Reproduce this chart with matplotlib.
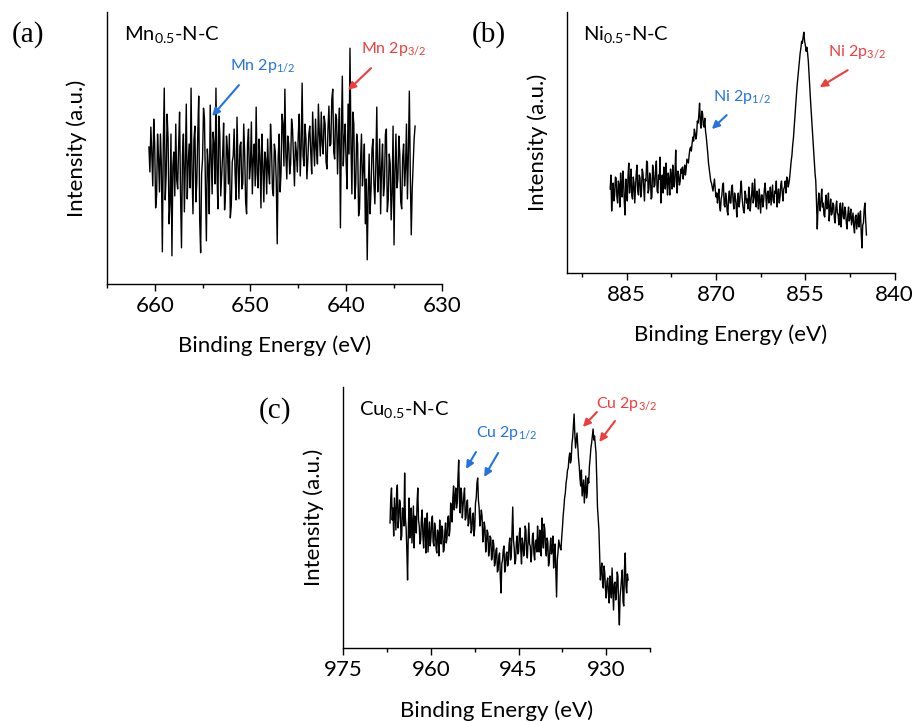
import matplotlib
matplotlib.use("Agg")
import matplotlib.pyplot as plt
from matplotlib.ticker import MultipleLocator
import numpy as np

plt.rcParams['font.family'] = 'Lato'
plt.rcParams['mathtext.fontset'] = 'custom'
plt.rcParams['mathtext.rm'] = 'Lato'
plt.rcParams['mathtext.it'] = 'Lato:italic'

BLUE = '#2473E0'
RED = '#EE3D3D'

# --- Mn 2p spectrum (binding energy grid: start, step) ---
mn_start, mn_step = 660.6, 0.1
mn_counts = [
    137, 112, 157, 130, 98, 165, 140, 76, 88, 150,
    126, 92, 150, 118, 32, 140, 196, 84, 110, 170,
    145, 60, 80, 150, 28, 118, 132, 88, 160, 104,
    95, 138, 172, 90, 36, 128, 150, 72, 120, 180,
    85, 120, 140, 96, 196, 112, 70, 144, 158, 82,
    102, 150, 188, 64, 31, 110, 125, 176, 165, 98,
    43, 135, 118, 70, 179, 128, 90, 152, 140, 100,
    196, 115, 75, 168, 150, 88, 108, 130, 161, 74,
    92, 148, 135, 100, 150, 66, 78, 122, 128, 155,
    110, 84, 167, 120, 85, 138, 142, 95, 100, 160,
    130, 82, 70, 140, 155, 105, 118, 162, 90, 125,
    140, 98, 177, 110, 96, 145, 128, 76, 150, 118,
    82, 132, 125, 90, 145, 112, 100, 160, 138, 95,
    88, 140, 132, 102, 40, 126, 150, 92, 112, 170,
    160, 118, 195, 130, 105, 148, 140, 110, 120, 165,
    155, 125, 98, 142, 132, 112, 150, 170, 108, 136,
    201, 128, 118, 160, 145, 105, 125, 150, 158, 132,
    110, 172, 140, 118, 165, 135, 120, 180, 150, 128,
    172, 140, 130, 168, 160, 122, 115, 155, 178, 138,
    140, 185, 195, 132, 125, 170, 165, 110, 150, 176,
    56, 150, 208, 118, 145, 160, 120, 95, 180, 130,
    236, 140, 90, 172, 160, 85, 100, 150, 140, 68,
    75, 122, 150, 98, 115, 140, 60, 105, 24, 90,
    130, 70, 95, 135, 145, 100, 80, 120, 177, 92,
    110, 145, 70, 118, 140, 88, 100, 150, 155, 72,
    85, 130, 120, 64, 90, 158, 39, 112, 150, 96,
    105, 148, 130, 82, 75, 126, 140, 98, 115, 160,
    85, 130, 193, 110, 49, 95, 120, 145, 158,
]

# --- Ni 2p spectrum ---
ni_start, ni_step = 887.75, 0.125
ni_counts = [
    84, 98, 62, 80, 90, 72, 78, 96, 95, 76,
    70, 92, 88, 66, 100, 84, 76, 102, 92, 70,
    58, 94, 85, 72, 98, 110, 80, 90, 104, 78,
    74, 96, 90, 70, 86, 100, 108, 82, 78, 98,
    95, 76, 82, 104, 100, 86, 72, 94, 92, 112,
    110, 80, 84, 100, 96, 74, 76, 108, 102, 86,
    88, 104, 112, 82, 80, 98, 94, 116, 70, 92,
    98, 80, 106, 90, 84, 110, 92, 78, 100, 94,
    78, 104, 96, 84, 108, 94, 86, 100, 123, 90,
    80, 102, 98, 88, 92, 104,
    100, 106, 94, 102, 108, 98, 104, 114, 112, 110,
    118, 124, 126, 122, 130, 136, 132, 144, 140, 134,
    138, 152, 150, 158, 170, 150, 145, 162, 160, 148,
    146, 155, 142, 136, 128, 120, 110, 104, 98, 92,
    90, 86, 82, 88, 94, 84, 76, 80,
    70, 78, 84, 66, 62, 74, 78, 88, 90, 68,
    66, 80, 74, 62, 58, 76, 82, 70, 70, 86,
    88, 72, 64, 80, 76, 68, 56, 74, 80, 66,
    72, 84, 92, 76, 68, 62, 60, 82, 78, 70,
    74, 64, 86, 78, 62, 72, 80, 90, 70, 76,
    94, 74, 66, 82, 76, 64, 84, 72, 60, 78,
    78, 66, 72, 84, 90, 76, 64, 80, 82, 70,
    74, 86, 68, 78, 88, 72, 70, 82, 80, 92,
    66, 78, 84, 70, 76, 88, 92, 80, 72, 84,
    86, 92, 80, 96, 94, 86,
    90, 96, 104, 112, 118, 128, 135, 146, 158, 168,
    178, 188, 196, 204, 212, 220, 225, 232, 230, 236,
    241, 232, 228, 222, 226, 220, 212, 198, 185, 172,
    160, 148, 136, 124, 112, 100, 92, 70, 44, 66,
    80, 70,
    62, 74, 84, 66, 70, 58, 56, 72, 78, 64,
    66, 80, 52, 64, 74, 58, 60, 70, 68, 54,
    50, 66, 72, 60, 58, 48, 64, 70, 46, 62,
    70, 56, 54, 66, 62, 50, 44, 58, 66, 52,
    56, 64, 48, 54, 60, 46, 40, 56, 58, 44,
    52, 60, 46, 56, 62, 40, 25, 48, 50, 64,
    70, 52, 38,
]

# --- Cu 2p spectrum ---
cu_start, cu_step = 967.0, 0.125
cu_counts = [
    125, 150, 160, 128, 140, 112, 150, 135, 118, 155,
    163, 120, 130, 148, 145, 108, 112, 140, 138, 122,
    175, 130, 120, 98, 68, 115, 150, 110, 128, 140,
    105, 125, 142, 100, 132, 118, 115, 145, 160, 128,
    122, 104, 108, 130, 138, 112, 100, 124, 130, 95,
    118, 135, 96, 110, 126, 102, 110, 128, 132, 106,
    102, 125, 120, 100, 95, 118, 114, 92, 128, 110,
    104, 122, 118, 96, 98, 115, 125, 105, 110, 130,
    132, 112, 118, 145, 140, 126, 150, 162, 138, 150,
    160, 140, 145, 170, 188, 148, 135, 160, 155, 130,
    142, 152, 160, 128, 130, 145, 148, 122, 125, 138,
    140, 115, 118, 132, 135, 112, 120, 145, 150, 165,
    170, 148, 140, 122, 128, 138, 132, 106, 112, 126,
    120, 96, 105, 118, 115, 92, 98, 112, 110, 88,
    92, 108, 104, 82, 85, 98, 100, 76, 78, 92,
    95, 70, 55, 84, 88, 98, 102, 76, 80, 94,
    96, 82, 86, 104, 110, 88, 92, 118, 141, 108,
    100, 84, 88, 106, 112, 94, 96, 114, 120, 98,
    84, 110, 105, 92, 98, 122, 118, 96, 90, 108,
    125, 104, 102, 86, 95, 112, 115, 94, 88, 106,
    108, 96, 122, 104, 96, 118, 112, 92, 130, 110,
    100, 124, 118, 98, 92, 110, 106, 82, 86, 100,
    110, 94, 98, 112, 80, 96, 104, 78, 51, 88,
    96, 108, 104, 100, 98, 110, 120, 132, 140, 150,
    155, 165, 170, 178, 180, 190, 195, 185, 188, 204,
    210, 222, 234, 214, 200, 208, 215, 202, 190, 182,
    170, 162, 178, 152, 160, 168, 145, 158, 172, 150,
    155, 170, 165, 182, 190, 200, 205, 212, 219, 208,
    212, 204, 195, 170, 141, 130, 118, 92, 68, 78,
    85, 64, 60, 82, 75, 58, 50, 66, 70, 55,
    45, 72, 62, 50, 80, 58, 38, 64, 66, 48,
    55, 76, 72, 40, 23, 52, 60, 70, 78, 46,
    42, 80, 95, 62, 55, 74, 68,
]


def energies(start, step, counts):
    return start - step * np.arange(len(counts))


fig = plt.figure(figsize=(9.13, 7.22), dpi=100)

panels = [
    dict(rect=[0.117, 0.607, 0.367, 0.376], xlim=(665, 630), major=10, minor=5,
         data=(mn_start, mn_step, mn_counts), ylim=(0, 272),
         name=r'Mn$_{0.5}$-N-C', letter='(a)', letter_xy=(0.031, 0.952)),
    dict(rect=[0.621, 0.622, 0.359, 0.361], xlim=(895, 840), major=15, minor=7.5,
         data=(ni_start, ni_step, ni_counts), ylim=(0, 261),
         name=r'Ni$_{0.5}$-N-C', letter='(b)', letter_xy=(0.535, 0.952)),
    dict(rect=[0.376, 0.1025, 0.336, 0.3615], xlim=(975, 922.5), major=15, minor=7.5,
         data=(cu_start, cu_step, cu_counts), ylim=(0, 261),
         name=r'Cu$_{0.5}$-N-C', letter='(c)', letter_xy=(0.301, 0.432)),
]

axes = []
for p in panels:
    ax = fig.add_axes(p['rect'])
    start, step, counts = p['data']
    ax.plot(energies(start, step, counts), counts, color='black', lw=1.0)
    ax.set_xlim(*p['xlim'])
    ax.set_ylim(*p['ylim'])
    ax.xaxis.set_major_locator(MultipleLocator(p['major']))
    ax.xaxis.set_minor_locator(MultipleLocator(p['minor']))
    ax.spines['top'].set_visible(False)
    ax.spines['right'].set_visible(False)
    ax.spines['left'].set_linewidth(1.0)
    ax.spines['bottom'].set_linewidth(1.0)
    ax.set_yticks([])
    ax.tick_params(axis='x', which='major', direction='out', length=5, width=1,
                   labelsize=16, pad=4)
    ax.tick_params(axis='x', which='minor', direction='out', length=3, width=1)
    ax.set_xlabel('Binding Energy (eV)', fontsize=16, labelpad=14)
    ax.set_ylabel('Intensity (a.u.)', fontsize=16, labelpad=14)
    ax.text(0.05, 0.955, p['name'], transform=ax.transAxes, fontsize=14.5,
            ha='left', va='top')
    fig.text(p['letter_xy'][0], p['letter_xy'][1], p['letter'], fontsize=21,
             family='Liberation Serif', ha='center', va='center')
    axes.append(ax)

arrow_kw = dict(arrowstyle='-|>,head_length=0.45,head_width=0.22', lw=1.5,
                shrinkA=0, shrinkB=0)

ax_mn, ax_ni, ax_cu = axes

ax_mn.text(652.1, 214, r'Mn 2p$_{1/2}$', color=BLUE, fontsize=11.5)
ax_mn.annotate('', xy=(654.0, 168), xytext=(651.2, 199),
               arrowprops=dict(color=BLUE, **arrow_kw))
ax_mn.text(638.5, 231, r'Mn 2p$_{3/2}$', color=RED, fontsize=11.5)
ax_mn.annotate('', xy=(639.8, 194), xytext=(637.4, 216),
               arrowprops=dict(color=RED, **arrow_kw))

ax_ni.text(870.5, 172, r'Ni 2p$_{1/2}$', color=BLUE, fontsize=11.5)
ax_ni.annotate('', xy=(870.7, 144), xytext=(868.2, 158),
               arrowprops=dict(color=BLUE, **arrow_kw))
ax_ni.text(851.2, 217, r'Ni 2p$_{3/2}$', color=RED, fontsize=11.5)
ax_ni.annotate('', xy=(852.6, 186), xytext=(847.9, 203),
               arrowprops=dict(color=RED, **arrow_kw))

ax_cu.text(952.3, 211, r'Cu 2p$_{1/2}$', color=BLUE, fontsize=11.5)
ax_cu.annotate('', xy=(954.0, 179), xytext=(952.3, 196),
               arrowprops=dict(color=BLUE, **arrow_kw))
ax_cu.annotate('', xy=(950.9, 171), xytext=(948.5, 195),
               arrowprops=dict(color=BLUE, **arrow_kw))
ax_cu.text(931.7, 240, r'Cu 2p$_{3/2}$', color=RED, fontsize=11.5)
ax_cu.annotate('', xy=(934.0, 221), xytext=(931.6, 236),
               arrowprops=dict(color=RED, **arrow_kw))
ax_cu.annotate('', xy=(931.2, 206), xytext=(928.5, 227),
               arrowprops=dict(color=RED, **arrow_kw))

fig.savefig('out.png', dpi=100)
